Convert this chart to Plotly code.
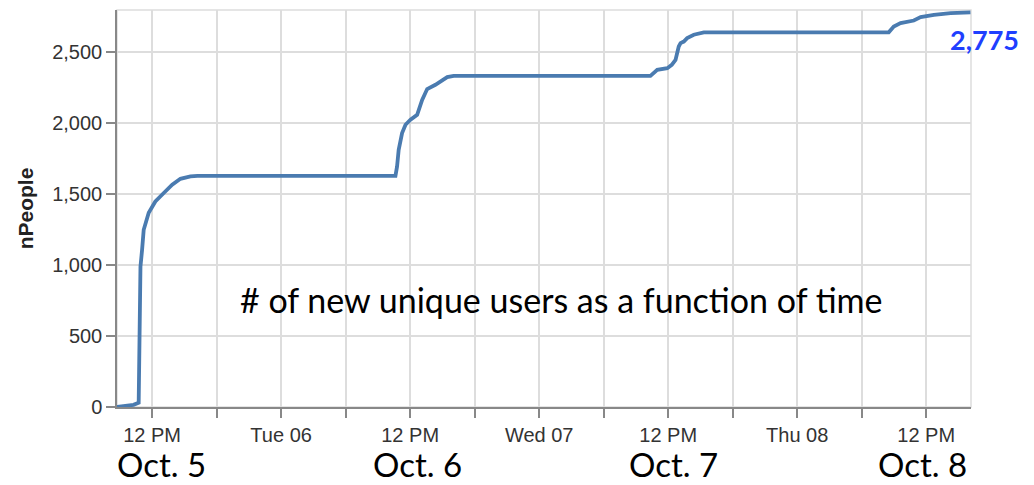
import plotly.graph_objects as go
import pandas as pd

# Data (cumulative unique users)
times = [
    "2015-10-05 08:44", "2015-10-05 09:31", "2015-10-05 10:16", "2015-10-05 10:45",
    "2015-10-05 10:51", "2015-10-05 10:55", "2015-10-05 11:04", "2015-10-05 11:13",
    "2015-10-05 11:41", "2015-10-05 12:18", "2015-10-05 13:05", "2015-10-05 13:52",
    "2015-10-05 14:38", "2015-10-05 15:34", "2015-10-05 16:13",
    "2015-10-06 10:38", "2015-10-06 10:47", "2015-10-06 10:56", "2015-10-06 11:15",
    "2015-10-06 11:34", "2015-10-06 12:02", "2015-10-06 12:39", "2015-10-06 13:07",
    "2015-10-06 13:35", "2015-10-06 14:21", "2015-10-06 14:49", "2015-10-06 15:27",
    "2015-10-06 16:03",
    "2015-10-07 10:21", "2015-10-07 10:59", "2015-10-07 11:55", "2015-10-07 12:20",
    "2015-10-07 12:41", "2015-10-07 12:59", "2015-10-07 13:09", "2015-10-07 13:27",
    "2015-10-07 13:46", "2015-10-07 14:23", "2015-10-07 15:19",
    "2015-10-08 08:31", "2015-10-08 08:59", "2015-10-08 09:37", "2015-10-08 10:51",
    "2015-10-08 11:29", "2015-10-08 12:43", "2015-10-08 14:16", "2015-10-08 16:07",
]
n_people = [
    0, 5, 15, 30,
    500, 988, 1106, 1246,
    1366, 1445, 1505, 1563,
    1605, 1622, 1626,
    1626, 1692, 1809, 1926,
    1985, 2020, 2055, 2160,
    2236, 2266, 2289, 2320,
    2329,
    2329, 2371, 2383, 2406,
    2441, 2535, 2559, 2570,
    2594, 2618, 2634,
    2635, 2676, 2700, 2718,
    2742, 2758, 2770, 2775,
]

tick_times = [
    "2015-10-05 12:00", "2015-10-05 18:00", "2015-10-06 00:00", "2015-10-06 06:00",
    "2015-10-06 12:00", "2015-10-06 18:00", "2015-10-07 00:00", "2015-10-07 06:00",
    "2015-10-07 12:00", "2015-10-07 18:00", "2015-10-08 00:00", "2015-10-08 06:00",
    "2015-10-08 12:00",
]
tick_labels = ["12 PM", "", "Tue 06", "", "12 PM", "", "Wed 07", "", "12 PM", "", "Thu 08", "", "12 PM"]

day_label_times = ["2015-10-05 12:50", "2015-10-06 12:40", "2015-10-07 12:30", "2015-10-08 11:40"]
day_labels = ["Oct. 5", "Oct. 6", "Oct. 7", "Oct. 8"]

final_label = "2,775"
note_text = "# of new unique users as a function of time"

fig = go.Figure()
fig.add_trace(go.Scatter(
    x=pd.to_datetime(times), y=n_people, mode="lines",
    line=dict(color="#4a7bb0", width=3.8, shape="linear"),
    hoverinfo="skip", showlegend=False,
))

# light view frame (top/right)
fig.add_shape(type="rect", xref="paper", yref="paper", x0=0, y0=0, x1=1, y1=1,
              line=dict(color="#dddddd", width=1.5), layer="below")

tick_font = dict(family="Liberation Sans, Arial, sans-serif", size=20, color="#333333")

fig.update_xaxes(
    type="date",
    range=["2015-10-05 08:44", "2015-10-08 16:10"],
    tickvals=pd.to_datetime(tick_times), ticktext=tick_labels,
    showgrid=True, gridcolor="#dddddd", gridwidth=1.5,
    showline=True, linecolor="#888888", linewidth=1.5,
    ticks="outside", ticklen=9, tickcolor="#888888", tickwidth=1.5,
    tickfont=tick_font, zeroline=False,
)
fig.update_yaxes(
    range=[0, 2792],
    tickvals=[0, 500, 1000, 1500, 2000, 2500], tickformat=",",
    showgrid=True, gridcolor="#dddddd", gridwidth=1.5,
    showline=True, linecolor="#888888", linewidth=1.5,
    ticks="outside", ticklen=9, tickcolor="#888888", tickwidth=1.5,
    tickfont=tick_font, zeroline=False,
    title=dict(text="<b>nPeople</b>", font=dict(family="Liberation Sans, Arial, sans-serif",
                                                  size=21, color="#222222"), standoff=13),
)

annotations = []
annotations.append(dict(
    x=0.521, y=0.27, xref="paper", yref="paper", text=note_text, showarrow=False,
    font=dict(family="Lato, Open Sans, sans-serif", size=34, color="#000000"),
    xanchor="center", yanchor="middle",
))
for t, lab in zip(day_label_times, day_labels):
    annotations.append(dict(
        x=pd.to_datetime(t), y=0, xref="x", yref="paper", yshift=-57, text=lab,
        showarrow=False, xanchor="center", yanchor="middle",
        font=dict(family="Lato, Open Sans, sans-serif", size=33, color="#000000"),
    ))
annotations.append(dict(
    x=pd.to_datetime(times[-1]), y=n_people[-1], xref="x", yref="y", text="<b>" + final_label + "</b>",
    showarrow=False, xanchor="center", yanchor="middle", xshift=14, yshift=-27,
    font=dict(family="Lato, Open Sans, sans-serif", size=27, color="#1f3fff"),
))

fig.update_layout(
    width=1034, height=485,
    margin=dict(l=117, r=63, t=10, b=78),
    paper_bgcolor="white", plot_bgcolor="white",
    annotations=annotations,
    showlegend=False,
)

fig.write_html("out.html", config={"displayModeBar": False},
               post_script="document.body.style.margin='0';")
